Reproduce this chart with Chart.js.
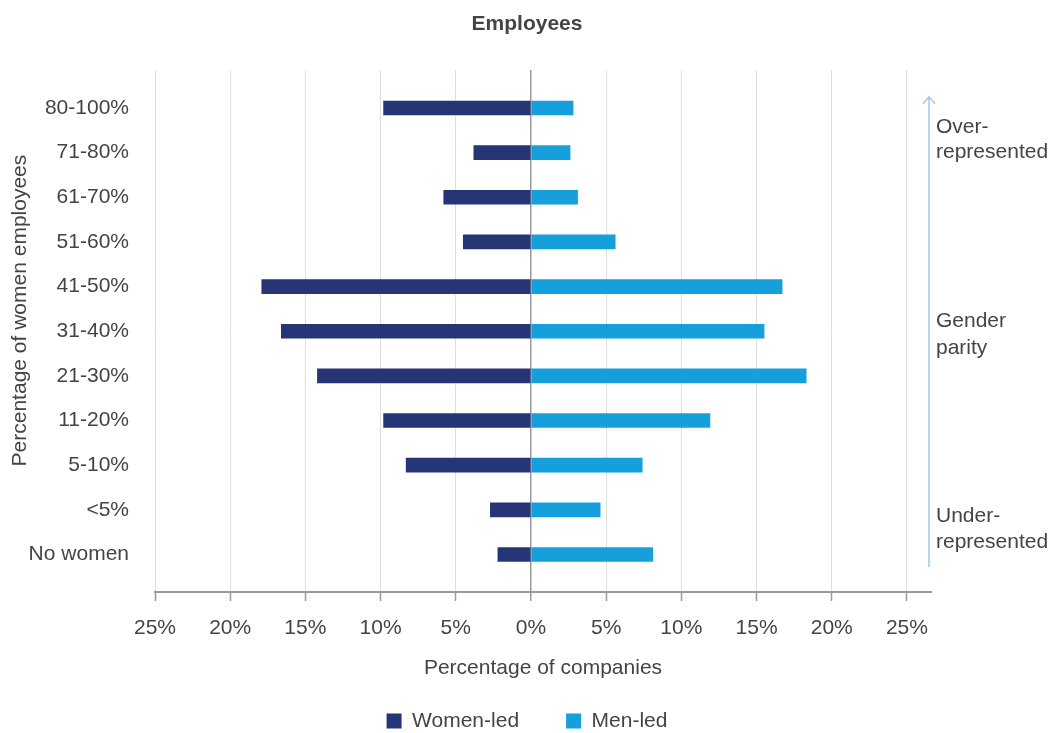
<!DOCTYPE html>
<html lang="en">
<head>
    <meta charset="UTF-8" />
    <title>Employees</title>
    <style>
        body {
            margin: 0;
            background-color: #fff;
        }
        .chart-container {
            width: 1054px;
            height: 733px;
        }
    </style>
    <script src="https://cdn.jsdelivr.net/npm/chart.js"></script>
</head>
<body>
    <div class="chart-container">
        <canvas id="employeesChart" width="1054" height="733"></canvas>
    </div>

    <script>
        // Categories, top to bottom
        const categories = ['80-100%', '71-80%', '61-70%', '51-60%', '41-50%', '31-40%', '21-30%', '11-20%', '5-10%', '<5%', 'No women'];

        // Percentage of companies (women-led drawn to the left)
        const womenLed = [9.8, 3.8, 5.8, 4.5, 17.9, 16.6, 14.2, 9.8, 8.3, 2.7, 2.2];
        const menLed = [2.8, 2.6, 3.1, 5.6, 16.7, 15.5, 18.3, 11.9, 7.4, 4.6, 8.1];

        // Notes on the right side, with the row position they sit at
        const noteLines = ['Over-', 'represented', 'Gender', 'parity', 'Under-', 'represented'];
        const noteRows = [0.43, 0.99, 4.77, 5.38, 9.14, 9.72];
        const arrowRows = [10.28, -0.25];

        const textColor = '#444';
        const fontFamily = "'Liberation Sans', Arial, sans-serif";

        // Draws the arrow and the notes beside the plot
        const notesPlugin = {
            id: 'notes',
            afterDraw(chart) {
                const ctx = chart.ctx;
                const y = chart.scales.y;
                const x = chart.chartArea.right - 2;
                const yBottom = y.getPixelForValue(arrowRows[0]);
                const yTop = y.getPixelForValue(arrowRows[1]);
                ctx.save();
                ctx.strokeStyle = '#9fc7ea';
                ctx.lineWidth = 1.5;
                ctx.beginPath();
                ctx.moveTo(x, yBottom);
                ctx.lineTo(x, yTop);
                ctx.moveTo(x - 6, yTop + 7);
                ctx.lineTo(x, yTop);
                ctx.lineTo(x + 6, yTop + 7);
                ctx.stroke();

                ctx.fillStyle = textColor;
                ctx.font = '21px ' + fontFamily;
                ctx.textAlign = 'left';
                ctx.textBaseline = 'middle';
                noteLines.forEach(function(line, i) {
                    ctx.fillText(line, x + 7, y.getPixelForValue(noteRows[i]));
                });
                ctx.restore();
            }
        };

        Chart.defaults.font.family = fontFamily;
        Chart.defaults.font.size = 21;
        Chart.defaults.color = textColor;

        const ctx = document.getElementById('employeesChart').getContext('2d');
        const employeesChart = new Chart(ctx, {
            type: 'bar',
            data: {
                datasets: [{
                    label: 'Women-led',
                    data: womenLed.map((v, i) => ({ x: -v, y: i })),
                    backgroundColor: '#263576',
                    barThickness: 14,
                    grouped: false
                }, {
                    label: 'Men-led',
                    data: menLed.map((v, i) => ({ x: v, y: i })),
                    backgroundColor: '#15a0dc',
                    barThickness: 14,
                    grouped: false
                }]
            },
            options: {
                indexAxis: 'y',
                responsive: false,
                animation: false,
                layout: {
                    padding: { top: 0, right: 0, bottom: -8.5, left: 0 }
                },
                scales: {
                    x: {
                        type: 'linear',
                        min: -25,
                        max: 26.6,
                        afterFit(scale) { scale.height = 71.5; },
                        ticks: {
                            stepSize: 5,
                            includeBounds: false,
                            padding: 15,
                            color: textColor,
                            callback: (v) => Math.abs(v) + '%'
                        },
                        grid: {
                            color: (c) => c.tick && c.tick.value === 0 ? '#9a9a9a' : '#dedede',
                            lineWidth: (c) => c.tick && c.tick.value === 0 ? 1.5 : 1,
                            tickColor: '#9a9a9a',
                            tickLength: 9,
                            tickWidth: 1.5
                        },
                        border: { display: true, color: '#9a9a9a', width: 2 },
                        title: {
                            display: true,
                            text: 'Percentage of companies',
                            color: textColor,
                            padding: { top: 0, bottom: -17 }
                        }
                    },
                    y: {
                        type: 'linear',
                        reverse: true,
                        offset: false,
                        min: -0.85,
                        max: 10.84,
                        afterFit(scale) { scale.width = 155; },
                        ticks: {
                            stepSize: 1,
                            includeBounds: false,
                            padding: 18,
                            color: textColor,
                            callback: (v) => categories[v]
                        },
                        grid: { display: false, offset: false },
                        border: { display: false },
                        title: {
                            display: true,
                            text: '       Percentage of women employees',
                            color: textColor,
                            padding: { top: 7.4, bottom: 4 }
                        }
                    },
                    // empty space on the right for the notes
                    side: {
                        type: 'linear',
                        position: 'right',
                        afterFit(scale) { scale.width = 123; },
                        ticks: { display: false },
                        grid: { display: false },
                        border: { display: false }
                    }
                },
                plugins: {
                    title: {
                        display: true,
                        text: 'Employees',
                        color: textColor,
                        font: { size: 21, weight: 'bold' },
                        padding: { top: 11.4, bottom: 33.4 }
                    },
                    legend: {
                        position: 'bottom',
                        labels: {
                            boxWidth: 15,
                            boxHeight: 15,
                            padding: 47,
                            color: textColor
                        }
                    },
                    tooltip: { enabled: false }
                }
            },
            plugins: [notesPlugin]
        });
    </script>
</body>
</html>
